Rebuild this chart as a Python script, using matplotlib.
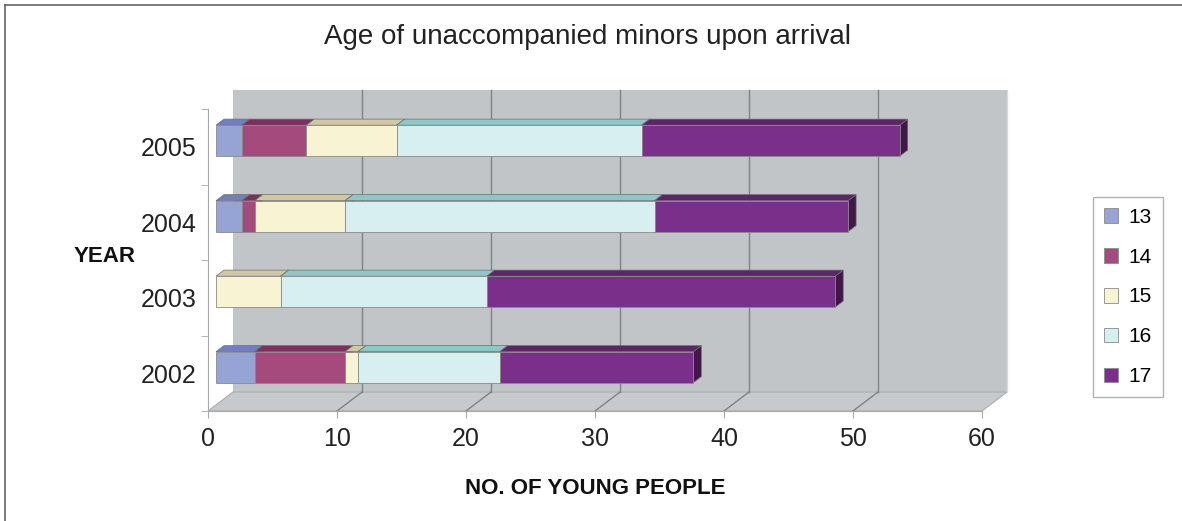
import numpy as np
import matplotlib
matplotlib.use("Agg")
import matplotlib.pyplot as plt
from matplotlib.patches import Polygon

plt.rcParams['font.family'] = ['Liberation Sans', 'DejaVu Sans']

years = ["2002", "2003", "2004", "2005"]
ages = ["13", "14", "15", "16", "17"]
counts = {
    "13": [3, 0, 2, 2],
    "14": [7, 0, 1, 5],
    "15": [1, 5, 7, 7],
    "16": [11, 16, 24, 19],
    "17": [15, 27, 15, 20],
}
front_colors = ["#95A3D5", "#A44A7D", "#F8F4D3", "#D7EFF1", "#7A308A"]
top_colors = ["#6F7FC2", "#7C2F60", "#CFC8A1", "#8FC6C6", "#5C2567"]
side_colors = ["#5A6AAE", "#62234B", "#B3AC85", "#76ABAB", "#421748"]

W, H = 1182, 521
fig = plt.figure(figsize=(W / 100, H / 100), dpi=100)

# front plane of the plot, in pixels
x0_px, x1_px = 208, 982
y0_px, y1_px = 411, 109
ax = fig.add_axes([x0_px / W, 1 - y0_px / H, (x1_px - x0_px) / W, (y0_px - y1_px) / H])
xmax = 60
ax.set_xlim(0, xmax)
ax.set_ylim(0, len(years))

# depth offsets (full depth) in data units
px_x = (x1_px - x0_px) / xmax
px_y = (y0_px - y1_px) / len(years)
DX = 25 / px_x
DY = 19 / px_y

wall = "#C1C5C8"
grid = "#7F8386"

# back wall and floor
ax.add_patch(Polygon([(DX, DY), (xmax + DX, DY), (xmax + DX, len(years) + DY), (DX, len(years) + DY)],
                     closed=True, fc=wall, ec="none", zorder=0, clip_on=False))
ax.add_patch(Polygon([(0, 0), (xmax, 0), (xmax + DX, DY), (DX, DY)],
                     closed=True, fc="#C6CACD", ec="#A9ADB0", lw=0.8, zorder=0.5, clip_on=False))
for v in range(10, xmax, 10):
    ax.plot([v + DX, v + DX], [DY, len(years) + DY], color=grid, lw=1.0, zorder=0.6, clip_on=False)
    ax.plot([v, v + DX], [0, DY], color=grid, lw=1.0, zorder=0.6, clip_on=False)
ax.plot([xmax + DX, xmax + DX], [DY, len(years) + DY], color="#D8DADC", lw=1.0, zorder=0.6, clip_on=False)

# stacked 3D bars
d0, d1 = 0.32, 0.64
bh = 0.41
for j, yr in enumerate(years):
    left = 0.0
    for k, age in enumerate(ages):
        w = counts[age][j]
        if w == 0:
            continue
        ox0, oy0 = d0 * DX, d0 * DY
        ox1, oy1 = d1 * DX, d1 * DY
        yb = j + 0.5 - bh / 2 + oy0
        yt = j + 0.5 + bh / 2 + oy0
        xl = left + ox0
        xr = left + w + ox0
        dx, dy = ox1 - ox0, oy1 - oy0
        front = [(xl, yb), (xr, yb), (xr, yt), (xl, yt)]
        top = [(xl, yt), (xr, yt), (xr + dx, yt + dy), (xl + dx, yt + dy)]
        side = [(xr, yb), (xr + dx, yb + dy), (xr + dx, yt + dy), (xr, yt)]
        ax.add_patch(Polygon(side, closed=True, fc=side_colors[k], ec="#6E6E6E", lw=0.5, zorder=2, clip_on=False))
        ax.add_patch(Polygon(top, closed=True, fc=top_colors[k], ec="#6E6E6E", lw=0.5, zorder=2, clip_on=False))
        ax.add_patch(Polygon(front, closed=True, fc=front_colors[k], ec="#8A8A8A", lw=0.6, zorder=2, clip_on=False))
        left += w

# axes styling
for s in ["top", "right"]:
    ax.spines[s].set_visible(False)
ax.spines["left"].set_color("#A8A8A8")
ax.spines["bottom"].set_color("#A8A8A8")
ax.set_facecolor("none")
ax.set_yticks(np.arange(len(years)) + 0.5)
ax.set_yticklabels(years)
ax.set_yticks(np.arange(len(years) + 1), minor=True)
ax.tick_params(axis="y", which="major", length=0, pad=8.5, labelsize=18, labelcolor="#222222")
ax.tick_params(axis="y", which="minor", length=5, color="#A8A8A8")
ax.set_xticks(range(0, xmax + 1, 10))
ax.tick_params(axis="x", length=5, color="#A8A8A8", pad=6.5, labelsize=18, labelcolor="#222222")

fig.text(587 / W, 1 - 37 / H, "Age of unaccompanied minors upon arrival", ha="center", va="center",
         fontsize=20, color="#222222")
fig.text(105 / W, 1 - 257 / H, "YEAR", ha="center", va="center", fontsize=16,
         fontweight="bold", color="#111111")
fig.text(595 / W, 1 - 488 / H, "NO. OF YOUNG PEOPLE", ha="center", va="center", fontsize=16,
         fontweight="bold", color="#111111")

# legend
handles = [plt.Rectangle((0, 0), 1, 1, fc=front_colors[k], ec="#8A8A8A", lw=0.6) for k in range(len(ages))]
fig.legend(handles, ages, loc="center", bbox_to_anchor=(1128 / W, 1 - 297 / H), frameon=True,
           fancybox=False, edgecolor="#A0A0A0", fontsize=15, handlelength=0.7, handleheight=0.7,
           labelspacing=1.0, handletextpad=0.5, borderpad=0.5, borderaxespad=0)

# outer frame (top and left)
fig.add_artist(plt.Line2D([5 / W, 1], [1 - 5 / H, 1 - 5 / H], transform=fig.transFigure, color="#666666", lw=1.2))
fig.add_artist(plt.Line2D([5 / W, 5 / W], [0, 1 - 5 / H], transform=fig.transFigure, color="#666666", lw=1.2))

fig.savefig("out.png", dpi=100)
